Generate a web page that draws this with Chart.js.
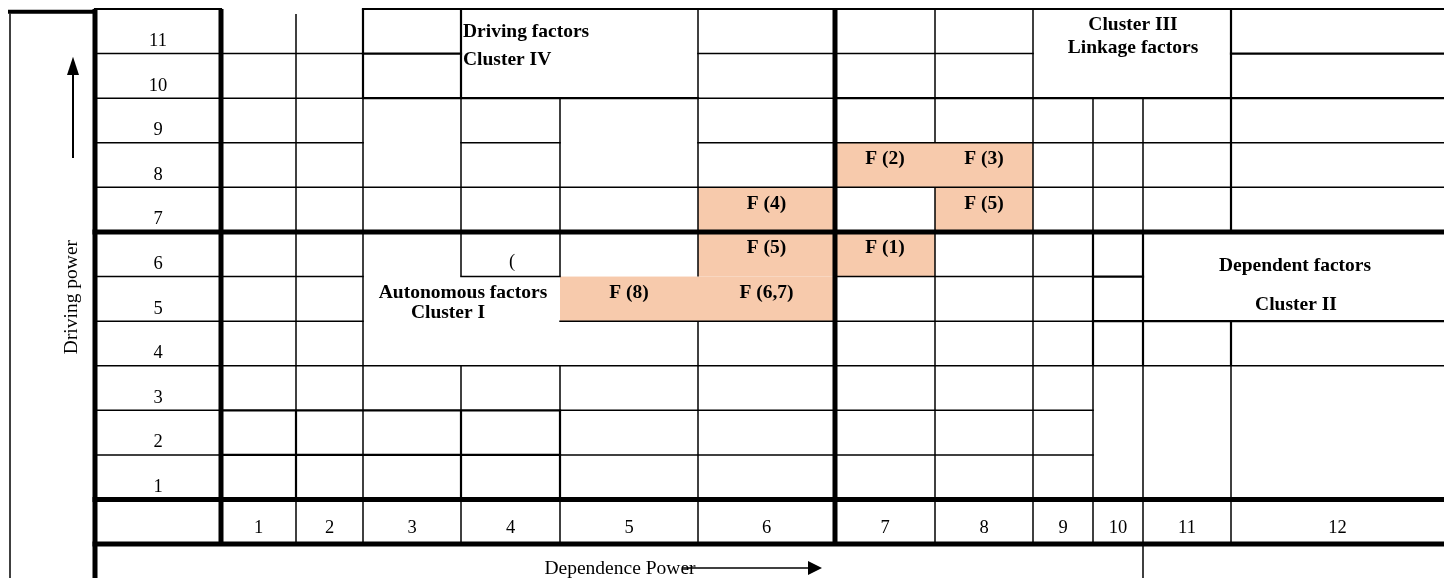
<!DOCTYPE html>
<html>
<head>
<meta charset="utf-8">
<script src="https://cdn.jsdelivr.net/npm/chart.js@4.4.0/dist/chart.umd.min.js"></script>
<style>
html, body { margin: 0; padding: 0; background: #fff; overflow: hidden; }
#wrap { width: 1444px; height: 578px; position: relative; }
</style>
</head>
<body>
<div id="wrap"><canvas id="micmac"></canvas></div>
<script>
// axis ticks
var dependenceTicks = [1, 2, 3, 4, 5, 6, 7, 8, 9, 10, 11, 12];
var drivingTicks = [1, 2, 3, 4, 5, 6, 7, 8, 9, 10, 11];

// factors in the matrix (dependence = column, driving = row)
var factorLabels = ["F (2)", "F (3)", "F (4)", "F (5)", "F (5)", "F (1)", "F (8)", "F (6,7)"];
var factorDependence = [7, 8, 6, 8, 6, 7, 5, 6];
var factorDriving = [8, 8, 7, 7, 6, 6, 5, 5];

// cluster captions
var clusterText = ["Driving factors", "Cluster IV", "Cluster III", "Linkage factors",
                   "Autonomous factors", "Cluster I", "Dependent factors", "Cluster II"];

var yTitle = "Driving power";
var xTitle = "Dependence Power";

// ---- layout (table look, not data) ----
// widths of: title column, row-label column, then dependence columns 1..12
var colWidths = [85, 126, 75, 67, 98, 99, 138, 137, 100, 98, 60, 50, 88, 213];
var colEdge = [0];
colWidths.forEach(function (w, i) { colEdge.push(colEdge[i] + w); });
function colMid(c) { return (colEdge[c + 1] + colEdge[c + 2]) / 2; }

var THIN = 1.5, MID = 2.2, THICK = 5;
// horizontal rules: y value -> [fromEdge, toEdge, width]
var hLines = [
  [11, [[1, 2, MID], [4, 14, MID]]],
  [10.94, [[0, 1, 4]]],
  [10, [[1, 4, THIN], [4, 5, MID], [7, 10, THIN], [13, 14, MID]]],
  [9, [[1, 4, THIN], [4, 7, MID], [7, 8, THIN], [8, 14, MID]]],
  [8, [[1, 4, THIN], [5, 6, THIN], [7, 14, THIN]]],
  [7, [[1, 14, THIN]]],
  [6, [[1, 14, THICK]]],
  [5, [[1, 4, THIN], [5, 6, THIN], [8, 11, THIN], [11, 12, MID]]],
  [4, [[1, 4, THIN], [6, 11, THIN], [11, 14, MID]]],
  [3, [[1, 14, THIN]]],
  [2, [[1, 2, THIN], [2, 6, MID], [6, 11, THIN]]],
  [1, [[1, 2, THIN], [2, 6, MID], [6, 11, THIN]]],
  [0, [[1, 14, THICK]]],
  [-1, [[1, 14, THICK]]]
];
// vertical rules: edge -> [fromY, toY, width]
var vLines = [
  [0, [[-1.8, 10.9, THIN]]],
  [1, [[-1.8, 11, THICK]]],
  [2, [[-1, 11, THICK]]],
  [3, [[2, 10.89, THIN], [0, 2, MID], [-1, 0, THIN]]],
  [4, [[9, 11, MID], [-1, 9, THIN]]],
  [5, [[9, 11, MID], [5, 9, THIN], [2, 3, THIN], [0, 2, MID], [-1, 0, THIN]]],
  [6, [[5, 9, THIN], [2, 3, THIN], [0, 2, MID], [-1, 0, THIN]]],
  [7, [[5, 11, THIN], [-1, 4, THIN]]],
  [8, [[-1, 11, THICK]]],
  [9, [[8, 11, THIN], [-1, 7, THIN]]],
  [10, [[-1, 11, THIN]]],
  [11, [[6, 9, THIN], [3, 6, MID], [-1, 3, THIN]]],
  [12, [[6, 9, THIN], [3, 6, MID], [-1, 3, THIN], [-1.8, -1, THIN]]],
  [13, [[6, 11, MID], [3, 4, MID], [-1, 3, THIN]]]
];
// caption anchors in scale units
var clusterPos = [
  [453, 10.48, "left"], [453, 9.86, "left"], [1123, 10.64, "center"], [1123, 10.13, "center"],
  [453, 4.63, "center"], [438, 4.18, "center"], [1285, 5.24, "center"], [1286, 4.36, "center"]
];

var CELL = "#f7caac";
var SERIF = "'Liberation Serif', 'DejaVu Serif', serif";

var tablePlugin = {
  id: "micmacTable",
  beforeDatasetsDraw: function (chart) {
    var ctx = chart.ctx, xs = chart.scales.x, ys = chart.scales.y;
    ctx.save();
    ctx.fillStyle = CELL;
    factorDependence.forEach(function (d, i) {
      var r = factorDriving[i];
      var x0 = xs.getPixelForValue(colEdge[d + 1]), x1 = xs.getPixelForValue(colEdge[d + 2]);
      var y0 = ys.getPixelForValue(r), y1 = ys.getPixelForValue(r - 1);
      ctx.fillRect(x0, y0, x1 - x0, y1 - y0);
    });
    ctx.restore();
  },
  afterDraw: function (chart) {
    var ctx = chart.ctx, xs = chart.scales.x, ys = chart.scales.y;
    function px(v) { return xs.getPixelForValue(v); }
    function py(v) { return ys.getPixelForValue(v); }
    ctx.save();
    ctx.strokeStyle = "#000";
    ctx.lineCap = "square";
    hLines.forEach(function (h) {
      h[1].forEach(function (s) {
        ctx.lineWidth = s[2];
        ctx.beginPath();
        ctx.moveTo(px(colEdge[s[0]]), py(h[0]));
        ctx.lineTo(px(colEdge[s[1]]), py(h[0]));
        ctx.stroke();
      });
    });
    ctx.lineCap = "butt";
    vLines.forEach(function (v) {
      v[1].forEach(function (s) {
        ctx.lineWidth = s[2];
        ctx.beginPath();
        ctx.moveTo(px(colEdge[v[0]]), py(s[0]));
        ctx.lineTo(px(colEdge[v[0]]), py(s[1]));
        ctx.stroke();
      });
    });

    ctx.fillStyle = "#000";
    ctx.textBaseline = "middle";
    ctx.textAlign = "center";
    ctx.font = "18.5px " + SERIF;
    drivingTicks.forEach(function (r) {
      ctx.fillText(String(r), px((colEdge[1] + colEdge[2]) / 2), py(r - 0.72));
    });
    dependenceTicks.forEach(function (c) {
      ctx.fillText(String(c), px(colMid(c)), py(-0.64));
    });
    ctx.fillText("(", px(502), py(5.33));

    ctx.font = "bold 19.5px " + SERIF;
    factorLabels.forEach(function (t, i) {
      ctx.fillText(t, px(colMid(factorDependence[i])), py(factorDriving[i] - 0.37));
    });
    clusterText.forEach(function (t, i) {
      ctx.textAlign = clusterPos[i][2];
      ctx.fillText(t, px(clusterPos[i][0]), py(clusterPos[i][1]));
    });

    // axis titles with arrows
    ctx.font = "19.5px " + SERIF;
    ctx.textAlign = "center";
    ctx.fillText(xTitle, px(610), py(-1.556));
    ctx.save();
    ctx.translate(px(62), py(4.54));
    ctx.rotate(-Math.PI / 2);
    ctx.fillText(yTitle, 0, 0);
    ctx.restore();

    ctx.lineWidth = 2;
    ctx.beginPath();
    ctx.moveTo(px(63), py(7.66));
    ctx.lineTo(px(63), py(9.6));
    ctx.stroke();
    ctx.beginPath();
    ctx.moveTo(px(63), py(9.93));
    ctx.lineTo(px(57), py(9.52));
    ctx.lineTo(px(69), py(9.52));
    ctx.closePath();
    ctx.fill();

    ctx.lineWidth = 1.5;
    ctx.beginPath();
    ctx.moveTo(px(672), py(-1.534));
    ctx.lineTo(px(800), py(-1.534));
    ctx.stroke();
    ctx.beginPath();
    ctx.moveTo(px(812), py(-1.534));
    ctx.lineTo(px(798), py(-1.38));
    ctx.lineTo(px(798), py(-1.69));
    ctx.closePath();
    ctx.fill();
    ctx.restore();
  }
};

new Chart("micmac", {
  type: "scatter",
  data: {
    datasets: [{
      label: "Factors",
      data: factorDependence.map(function (d, i) {
        return { x: colMid(d), y: factorDriving[i] - 0.5 };
      }),
      pointRadius: 0
    }]
  },
  options: {
    responsive: true,
    maintainAspectRatio: false,
    animation: false,
    layout: { padding: { left: 10, top: 9, right: 0, bottom: 0 } },
    plugins: { legend: { display: false }, tooltip: { enabled: false } },
    scales: {
      x: { type: "linear", min: 0, max: colEdge[colEdge.length - 1], display: false },
      y: { type: "linear", min: -1.76, max: 11, display: false }
    }
  },
  plugins: [tablePlugin]
});
</script>
</body>
</html>
